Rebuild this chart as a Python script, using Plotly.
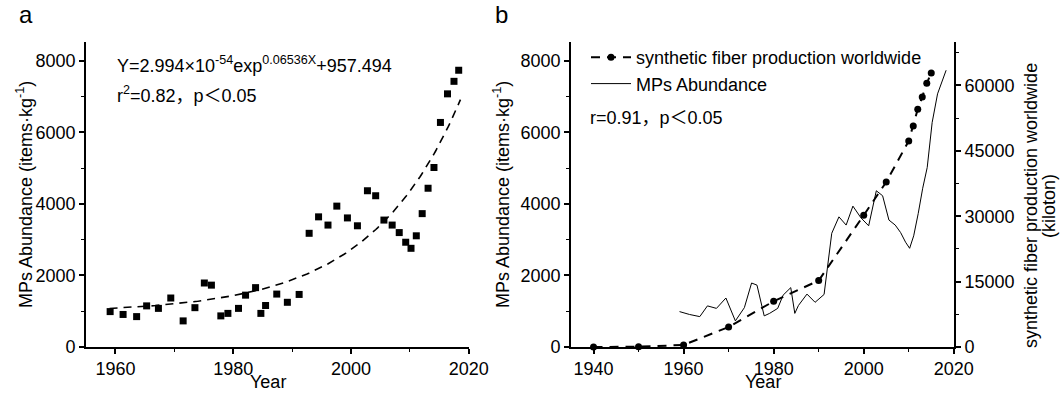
import numpy as np
import plotly.graph_objects as go

W, H = 1062, 393

# ---------------- data ----------------
mp_years = [1959.1, 1961.3, 1963.6, 1965.3, 1967.3, 1969.4, 1971.5, 1973.5, 1975.1, 1976.3,
            1977.9, 1979.1, 1980.9, 1982.1, 1983.8, 1984.7, 1985.5, 1987.4, 1989.2, 1991.2,
            1992.9, 1994.5, 1996.1, 1997.6, 1999.4, 2001.1, 2002.8, 2004.2, 2005.6, 2007.0,
            2008.2, 2009.3, 2010.2, 2011.1, 2012.1, 2013.1, 2014.1, 2015.2, 2016.4, 2017.5,
            2018.3]
mp_abundance = [990, 910, 850, 1150, 1080, 1370, 730, 1100, 1790, 1730,
                870, 940, 1080, 1450, 1660, 940, 1160, 1480, 1250, 1470,
                3180, 3640, 3410, 3940, 3610, 3390, 4370, 4230, 3550, 3410,
                3200, 2930, 2760, 3110, 3730, 4440, 5020, 6280, 7080, 7430,
                7740]

fiber_years = [1940, 1950, 1960, 1970, 1980, 1990, 2000, 2005, 2010, 2011, 2012, 2013, 2014, 2015]
fiber_production = [0, 70, 460, 4590, 10480, 15230, 30210, 37850, 47260, 50700, 54530, 57350, 60490, 62860]

# fitted model stated on the chart: Y = a*exp(b*X) + c
fit_a, fit_b, fit_c = 2.994e-54, 0.06536, 957.494
fit_start, fit_end = 1959.0, 2018.6

FONT = "Liberation Sans, Arial, Noto Sans CJK SC, sans-serif"

def px(x):
    return x / W

def py(y):
    return 1 - y / H

fit_x = np.linspace(fit_start, fit_end, 200)
fit_y = fit_a * np.exp(fit_b * fit_x) + fit_c

fig = go.Figure()

# panel a
fig.add_trace(go.Scatter(x=mp_years, y=mp_abundance, mode="markers",
                         marker=dict(symbol="square", size=7, color="black"),
                         showlegend=False, xaxis="x", yaxis="y"))
fig.add_trace(go.Scatter(x=fit_x, y=fit_y, mode="lines",
                         line=dict(color="black", width=1.6, dash="8px,6px"),
                         showlegend=False, xaxis="x", yaxis="y"))

# panel b
fig.add_trace(go.Scatter(x=fiber_years, y=fiber_production, mode="lines+markers",
                         name="synthetic fiber production worldwide",
                         line=dict(color="black", width=2, dash="9px,7px"),
                         marker=dict(symbol="circle", size=7, color="black"),
                         cliponaxis=False, xaxis="x2", yaxis="y3"))
fig.add_trace(go.Scatter(x=mp_years, y=mp_abundance, mode="lines",
                         name="MPs Abundance",
                         line=dict(color="black", width=1),
                         xaxis="x2", yaxis="y2"))

ydom = [py(347), py(42)]
axis_common = dict(showline=True, linecolor="black", linewidth=1.6, ticks="outside",
                   ticklen=5, tickwidth=1.6, tickcolor="black", showgrid=False,
                   zeroline=False, automargin=False,
                   tickfont=dict(size=18, color="black", family=FONT))
minor_common = dict(ticks="outside", ticklen=3, tickwidth=1.2, tickcolor="black", showgrid=False)

fig.update_layout(
    template="none",
    width=W, height=H, autosize=False,
    margin=dict(l=0, r=0, t=0, b=0, pad=0),
    paper_bgcolor="white", plot_bgcolor="white",
    font=dict(family=FONT, size=18, color="black"),
    xaxis=dict(domain=[px(86), px(469)], range=[1955, 2020.05], tick0=1960, dtick=20,
               minor=dict(dtick=10, tick0=1960, **minor_common),
               anchor="y", **axis_common),
    yaxis=dict(domain=ydom, range=[0, 8530], tick0=0, dtick=2000,
               minor=dict(dtick=1000, **minor_common),
               anchor="x", **axis_common),
    xaxis2=dict(domain=[px(571), px(954)], range=[1935, 2020.05], tick0=1940, dtick=20,
                minor=dict(dtick=10, tick0=1940, **minor_common),
                anchor="y2", **axis_common),
    yaxis2=dict(domain=ydom, range=[0, 8530], tick0=0, dtick=2000,
                minor=dict(dtick=1000, **minor_common),
                anchor="x2", **axis_common),
    yaxis3=dict(range=[0, 69950], tick0=0, dtick=15000, overlaying="y2", side="right",
                tickformat="d",
                minor=dict(dtick=7500, **minor_common),
                anchor="x2", **axis_common),
    legend=dict(x=px(586), y=py(39), xanchor="left", yanchor="top",
                bgcolor="rgba(0,0,0,0)", borderwidth=0, font=dict(size=18, family=FONT),
                itemwidth=40, tracegroupgap=0),
)

def ann(text, x, y, size=18, angle=0, xanchor="center", yanchor="middle", align="center", pad=1):
    fig.add_annotation(text=text, x=px(x), y=py(y), xref="paper", yref="paper",
                       showarrow=False, textangle=angle, xanchor=xanchor, yanchor=yanchor,
                       align=align, borderpad=pad,
                       font=dict(size=size, family=FONT, color="black"))

# panel labels
ann("a", 26, 15, size=24)
ann("b", 501, 15, size=24)

# axis titles
ann("MPs Abundance (items·kg<sup>-1</sup>)", 24, 195, angle=-90)
ann("MPs Abundance (items·kg<sup>-1</sup>)", 501, 195, angle=-90)
ann("Year", 268, 393, yanchor="bottom", pad=0)
ann("Year", 763, 393, yanchor="bottom", pad=0)
ann("synthetic fiber production worldwide", 1031, 206, angle=-90, pad=0)
ann("(kiloton)", 1049, 206, angle=-90, pad=0)

# statistics
ann("Y=2.994×10<sup>-54</sup>exp<sup>0.06536X</sup>+957.494", 115, 64, xanchor="left")
ann("r<sup>2</sup>=0.82，p＜0.05", 115, 94, xanchor="left")
ann("r=0.91，p＜0.05", 588, 118, xanchor="left")

fig.write_html("out.html")
